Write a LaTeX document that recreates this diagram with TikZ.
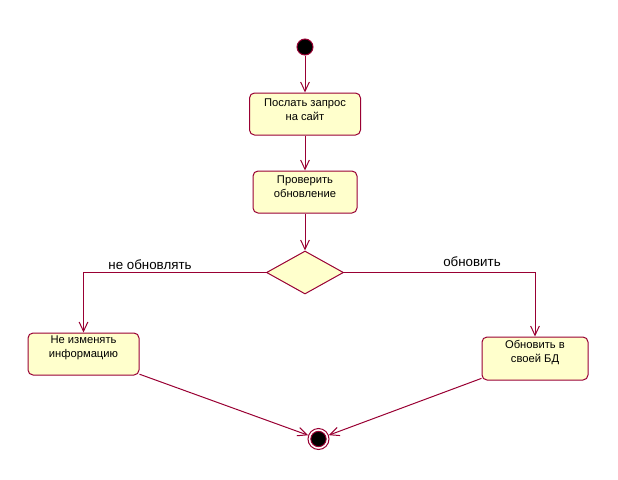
\documentclass[tikz,border=0pt]{standalone}
\usepackage{fontspec}
\setmainfont{Liberation Sans}
\usetikzlibrary{arrows.meta,shapes.geometric}
\definecolor{umlline}{RGB}{153,0,51}
\definecolor{umlfill}{RGB}{255,255,204}
\begin{document}
\begin{tikzpicture}[x=0.75pt,y=-0.75pt,
  act/.style={draw=umlline,fill=umlfill,line width=0.75pt,rounded corners=3.75pt,inner sep=0pt,minimum height=31.5pt},
  txt/.style={inner sep=0pt,align=center,font=\fontsize{8.4pt}{10.5pt}\selectfont},
  lbl/.style={inner sep=0pt,font=\fontsize{10pt}{11pt}\selectfont},
  dec/.style={diamond,draw=umlline,fill=umlfill,line width=0.75pt,inner sep=0pt,minimum width=57.75pt,minimum height=32.25pt,aspect=1.79},
  flow/.style={draw=umlline,line width=0.75pt,-{Straight Barb[length=7pt,width=6.5pt,line width=0.75pt]}},
  startdot/.style={circle,draw=umlline,fill=black,line width=0.75pt,minimum size=12pt,inner sep=0pt},
  endring/.style={circle,draw=umlline,line width=0.75pt,minimum size=15.75pt,inner sep=0pt},
  enddot/.style={circle,draw=umlline,fill=black,line width=0.75pt,minimum size=11.5pt,inner sep=0pt}]
\useasboundingbox (0,0) rectangle (618,479);
\node[startdot] (s) at (305,47) {};
\node[act,minimum width=83.25pt] (b1) at (305,114) {};
\node[txt] (t1) at (305,110) {Послать запрос\\на сайт};
\node[act,minimum width=78pt] (b2) at (305,192) {};
\node[txt] (t2) at (305,187) {Проверить\\обновление};
\node[dec] (d) at (305,272.5) {};
\node[act,minimum width=83.25pt] (b3) at (83.5,354) {};
\node[txt] (t3) at (83.5,348) {Не изменять\\информацию};
\node[act,minimum width=79.5pt,minimum height=32.25pt] (b4) at (535,358.5) {};
\node[txt] (t4) at (535,353) {Обновить в\\своей БД};
\node[endring] (e) at (318.5,439) {};
\node[enddot] (e2) at (318.5,439) {};
\node[lbl] (l1) at (150,265) {не обновлять};
\node[lbl] (l2) at (472,261.5) {обновить};
\draw[flow] (s) -- (b1);
\draw[flow] (b1) -- (b2);
\draw[flow] (b2) -- (d);
\draw[flow] (d.west) -| (b3.north);
\draw[flow] (d.east) -| (b4.north);
\draw[flow] (b3) -- (e);
\draw[flow] (b4) -- (e);
\end{tikzpicture}
\end{document}
